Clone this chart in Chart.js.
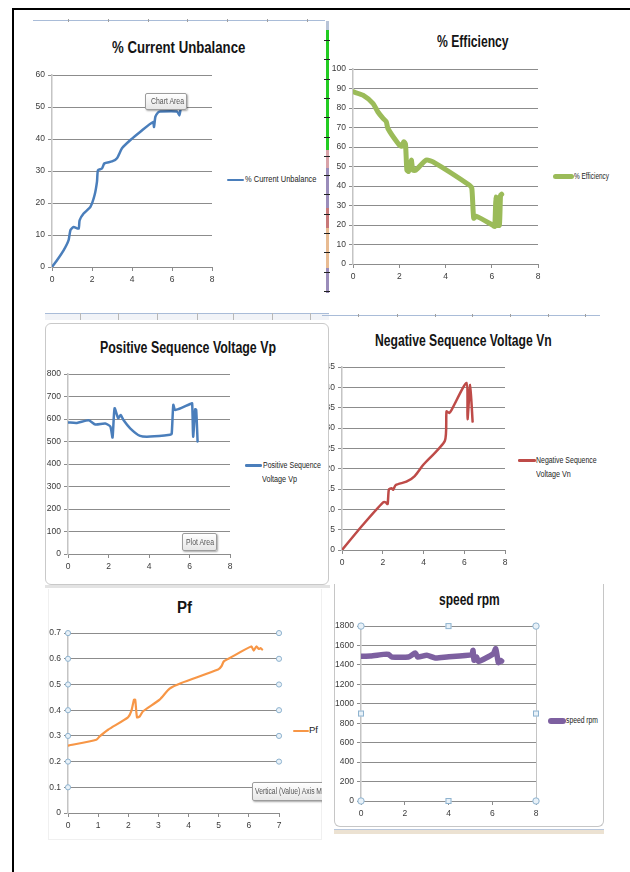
<!DOCTYPE html>
<html>
<head>
<meta charset="utf-8">
<script src="https://cdn.jsdelivr.net/npm/chart.js@4.4.1/dist/chart.umd.min.js"></script>
<style>
  html,body{margin:0;padding:0;}
  body{width:630px;height:872px;position:relative;background:#ffffff;overflow:hidden;font-family:"Liberation Sans",Arial,sans-serif;}
  .d{position:absolute;}
  canvas{position:absolute;}
  .tip{position:absolute;border:1px solid #9c9c9c;border-radius:2px;background:linear-gradient(#ffffff,#e6e6e6);box-shadow:1px 1px 2px rgba(0,0,0,0.35);box-sizing:border-box;overflow:hidden;}
</style>
</head>
<body>
<script>
// ---------------- DATA ----------------
const xTicks8 = [0, 2, 4, 6, 8];
const xTicks7 = [0, 1, 2, 3, 4, 5, 6, 7];
const unbalanceYTicks = [0, 10, 20, 30, 40, 50, 60];
const efficiencyYTicks = [0, 10, 20, 30, 40, 50, 60, 70, 80, 90, 100];
const vpYTicks = [0, 100, 200, 300, 400, 500, 600, 700, 800];
const vnYTicks = [0, 5, 10, 15, 20, 25, 30, 35, 40, 45];
const pfYTicks = [0, 0.1, 0.2, 0.3, 0.4, 0.5, 0.6, 0.7];
const speedYTicks = [0, 200, 400, 600, 800, 1000, 1200, 1400, 1600, 1800];

const unbalanceX = [0, 0.25, 0.58, 0.83, 0.92, 1.08, 1.33, 1.38, 1.58, 1.92, 2.13, 2.25, 2.3, 2.5, 2.62, 3.0, 3.25, 3.5, 3.92, 4.42, 5.05, 5.1, 5.17, 5.3, 5.4, 6.25, 6.37, 6.42];
const unbalanceY = [0, 2.1, 5.2, 8.4, 11.5, 12.5, 12, 14.6, 16.7, 18.8, 22.5, 26.7, 30.3, 30.8, 32.4, 33, 34, 37.1, 39.7, 42.3, 45.3, 43.8, 47, 48.3, 48.6, 48.6, 47.4, 49];

const efficiencyX = [0, 0.43, 0.86, 1.08, 1.3, 1.44, 1.51, 1.95, 2.09, 2.2, 2.27, 2.33, 2.4, 2.52, 2.59, 2.71, 3.17, 3.46, 5.04, 5.14, 5.22, 5.33, 6.05, 6.13, 6.18, 6.23, 6.33, 6.38, 6.43];
const efficiencyY = [88.4, 86.6, 82.4, 78, 74.7, 73, 69.5, 61.8, 60.4, 62.7, 61.5, 48.1, 47.5, 53.3, 48.1, 48.1, 53.3, 52.4, 40.4, 38.7, 23.5, 24.5, 19.9, 19.3, 34.4, 19.9, 19.9, 35.2, 35.8];

const vpX = [0, 0.44, 1.02, 1.35, 1.84, 2.09, 2.2, 2.3, 2.48, 2.6, 2.74, 3.07, 3.56, 4.06, 5.04, 5.12, 5.2, 5.28, 5.45, 6.03, 6.13, 6.18, 6.28, 6.33, 6.4];
const vpY = [585, 583, 595, 576, 580, 567, 518, 648, 604, 618, 596, 559, 525, 522, 530, 534, 663, 641, 644, 667, 670, 522, 644, 641, 500];

const vnX = [0, 1.03, 2.02, 2.15, 2.24, 2.3, 2.43, 2.51, 2.64, 3.16, 3.57, 3.98, 5.05, 5.13, 5.26, 5.38, 6.11, 6.16, 6.29, 6.41];
const vnY = [0, 6.2, 11.7, 11.7, 11.3, 14.9, 15.2, 14.8, 16, 16.8, 18.2, 20.9, 26.9, 34.1, 33.7, 34.5, 41.1, 32.2, 40.6, 31.6];

const pfX = [0, 0.94, 1.05, 1.33, 1.99, 2.1, 2.19, 2.23, 2.29, 2.38, 2.49, 3.04, 3.37, 3.76, 4.98, 5.09, 5.17, 5.37, 6.08, 6.16, 6.25, 6.33, 6.39, 6.44];
const pfY = [0.262, 0.285, 0.298, 0.324, 0.372, 0.396, 0.441, 0.441, 0.372, 0.376, 0.396, 0.441, 0.484, 0.506, 0.558, 0.571, 0.59, 0.603, 0.648, 0.632, 0.648, 0.638, 0.642, 0.636];

const speedX = [0, 0.43, 1.03, 1.26, 1.41, 2.17, 2.48, 2.59, 3.01, 3.39, 3.92, 5.06, 5.12, 5.17, 5.29, 5.37, 6.05, 6.16, 6.28, 6.36, 6.43];
const speedY = [1489, 1492, 1509, 1509, 1482, 1482, 1523, 1482, 1499, 1472, 1482, 1506, 1550, 1448, 1482, 1437, 1516, 1567, 1424, 1448, 1440];

// ---------------- HELPERS ----------------
const FONT = '"Liberation Sans Narrow","Liberation Sans",Arial,sans-serif';
const GRID = '#8c8c8c';
const TICKC = '#3a3a3a';
const WY = 34, PT = 8, PR = 8, HX = 22;

function box(css, z) {
  const d = document.createElement('div');
  d.className = 'd';
  d.style.cssText += css;
  if (z !== undefined) d.style.zIndex = z;
  document.body.appendChild(d);
  return d;
}

function label(text, x, cy, w, o) {
  o = o || {};
  const d = document.createElement('div');
  d.textContent = text;
  d.style.cssText = 'position:absolute;white-space:nowrap;line-height:1.15;transform-origin:0 0;left:0;top:0;' +
    'font-family:' + (o.family || '"Liberation Sans",Arial,sans-serif') + ';font-size:' + (o.size || 8.5) + 'px;' +
    'font-weight:' + (o.bold ? 'bold' : 'normal') + ';color:' + (o.color || '#222') + ';z-index:' + (o.z || 6);
  (o.parent || document.body).appendChild(d);
  const r = d.getBoundingClientRect();
  const left = o.center ? x - w / 2 : x;
  d.style.left = left + 'px';
  d.style.top = (cy - r.height / 2) + 'px';
  d.style.transform = 'scaleX(' + (w / r.width) + ')';
  return d;
}

function swatch(x1, x2, y, t, color) {
  box('left:' + x1 + 'px;top:' + (y - t / 2) + 'px;width:' + (x2 - x1) + 'px;height:' + t + 'px;background:' + color + ';border-radius:' + (t / 2) + 'px;', 6);
}

function pts(xs, ys) { return xs.map((x, i) => ({ x: x, y: ys[i] })); }

function makeChart(plot, xt, yt, xs, ys, color, lw, z, plugins, yfmt) {
  const c = document.createElement('canvas');
  const w = plot.r - plot.l + WY + PR, h = plot.b - plot.t + PT + HX;
  c.width = w; c.height = h;
  c.style.left = (plot.l - WY) + 'px';
  c.style.top = (plot.t - PT) + 'px';
  c.style.width = w + 'px'; c.style.height = h + 'px';
  c.style.zIndex = z;
  document.body.appendChild(c);
  const tf = { family: FONT, size: 8.5 };
  return new Chart(c.getContext('2d'), {
    type: 'scatter',
    data: { datasets: [{ data: pts(xs, ys), showLine: true, borderColor: color, backgroundColor: color,
      borderWidth: lw, pointRadius: 0, tension: 0.2, borderCapStyle: 'round', borderJoinStyle: 'round', fill: false }] },
    options: {
      responsive: false, animation: false, events: [], devicePixelRatio: 1,
      layout: { padding: { left: 0, top: PT, right: PR, bottom: 0 } },
      plugins: { legend: { display: false }, tooltip: { enabled: false }, title: { display: false } },
      scales: {
        x: {
          type: 'linear', min: xt[0], max: xt[xt.length - 1],
          afterBuildTicks: s => { s.ticks = xt.map(v => ({ value: v })); },
          afterFit: s => { s.height = HX; },
          grid: { display: true, drawOnChartArea: false, drawTicks: true, tickLength: 4, color: GRID },
          border: { display: true, color: GRID, width: 1 },
          ticks: { padding: 4, color: TICKC, font: tf, maxRotation: 0, autoSkip: false, callback: v => String(v) }
        },
        y: {
          type: 'linear', min: yt[0], max: yt[yt.length - 1],
          afterBuildTicks: s => { s.ticks = yt.map(v => ({ value: v })); },
          afterFit: s => { s.width = WY; },
          grid: { display: true, drawOnChartArea: true, drawTicks: true, tickLength: 4, color: GRID },
          border: { display: true, color: '#c4c4c4', width: 1.5 },
          ticks: { padding: 3, color: TICKC, font: tf, autoSkip: false, callback: yfmt || (v => String(v)) }
        }
      }
    },
    plugins: plugins || []
  });
}

function handleCircle(ctx, x, y, r) {
  ctx.beginPath(); ctx.arc(x, y, r, 0, Math.PI * 2);
  ctx.fillStyle = '#e8f1f8'; ctx.fill();
  ctx.lineWidth = 1; ctx.strokeStyle = '#8fb3cf'; ctx.stroke();
}
function handleSquare(ctx, x, y, s) {
  ctx.fillStyle = '#e8f1f8'; ctx.fillRect(x - s / 2, y - s / 2, s, s);
  ctx.lineWidth = 1; ctx.strokeStyle = '#8fb3cf'; ctx.strokeRect(x - s / 2 + 0.5, y - s / 2 + 0.5, s - 1, s - 1);
}

const pfHandles = {
  id: 'pfHandles',
  afterDraw(chart) {
    const ctx = chart.ctx, a = chart.chartArea, y = chart.scales.y;
    ctx.save();
    y.ticks.forEach(t => {
      if (t.value === 0) return;
      const py = y.getPixelForValue(t.value);
      handleCircle(ctx, a.left, py, 2.6);
      handleCircle(ctx, a.right, py, 2.6);
    });
    ctx.restore();
  }
};

const speedFrame = {
  id: 'speedFrame',
  beforeDatasetsDraw(chart) {
    const ctx = chart.ctx, a = chart.chartArea;
    ctx.save(); ctx.strokeStyle = '#c4c4c4'; ctx.lineWidth = 1;
    ctx.beginPath(); ctx.moveTo(Math.round(a.right) + 0.5, a.top); ctx.lineTo(Math.round(a.right) + 0.5, a.bottom); ctx.stroke();
    ctx.restore();
  },
  afterDraw(chart) {
    const ctx = chart.ctx, a = chart.chartArea;
    const mx = (a.left + a.right) / 2, my = (a.top + a.bottom) / 2;
    ctx.save();
    handleCircle(ctx, a.left, a.top, 3.2); handleCircle(ctx, a.right, a.top, 3.2);
    handleCircle(ctx, a.left, a.bottom, 3.2); handleCircle(ctx, a.right, a.bottom, 3.2);
    handleSquare(ctx, mx, a.top, 6); handleSquare(ctx, mx, a.bottom, 6);
    handleSquare(ctx, a.left, my, 6); handleSquare(ctx, a.right, my, 6);
    ctx.restore();
  }
};

// ---------------- PAGE DECORATION ----------------
// black frame
box('left:12px;top:8px;width:618px;height:2px;background:#000;', 8);
box('left:12px;top:8px;width:2px;height:864px;background:#000;', 8);
// spreadsheet line at top-left
box('left:33px;top:20px;width:292px;height:1px;background:#a9bcd8;', 1);
[68, 108, 148, 187, 227, 267, 307].forEach(x => box('left:' + x + 'px;top:19px;width:1px;height:3px;background:#a0a0a0;', 1));
// coloured strip
[[21, 30, '#b8c4d8'], [30, 150, '#22cc22'], [150, 168, '#d8a2a8'], [168, 208, '#9a8cba'], [208, 228, '#c87878'], [228, 268, '#e8bb92'], [268, 293, '#9a8cba']]
  .forEach(s => box('left:326px;top:' + s[0] + 'px;width:3px;height:' + (s[1] - s[0]) + 'px;background:' + s[2] + ';', 1));
for (let y = 40; y < 292; y += 19.3) box('left:324px;top:' + Math.round(y) + 'px;width:6px;height:1px;background:#222;', 1);
// spreadsheet rows around middle charts
box('left:45px;top:313px;width:284px;height:6px;background:#f1f3f7;border-top:1px solid #a9bcd8;', 1);
[80, 118, 157, 197, 233, 272, 310].forEach(x => box('left:' + x + 'px;top:313px;width:1px;height:7px;background:#b8b8b8;', 1));
box('left:322px;top:315px;width:278px;height:1px;background:#a9bcd8;', 1);
[358, 397, 435, 472, 510, 548, 585].forEach(x => box('left:' + x + 'px;top:314px;width:1px;height:3px;background:#a0a0a0;', 1));
// chart 3 box (covers chart 4 axis labels)
box('left:45px;top:323px;width:284px;height:262px;box-sizing:border-box;border:1px solid #c9c9c9;border-radius:6px;background:#fff;', 2);
box('left:45px;top:585px;width:285px;height:3px;background:#e3e3e3;', 2);
// chart 5 faint box
box('left:48px;top:589px;width:274px;height:251px;box-sizing:border-box;border:1px solid #f0f0f0;border-top:none;', 0);
// chart 6 box
box('left:334px;top:584px;width:270px;height:243px;box-sizing:border-box;border:1px solid #c6c6c6;border-top:none;border-radius:0 0 6px 6px;', 0);
box('left:334px;top:829px;width:270px;height:4px;background:#ece2d2;border-top:1px solid #b9c7dc;', 0);

// ---------------- CHARTS ----------------
makeChart({ l: 52, t: 75, r: 212, b: 267 }, xTicks8, unbalanceYTicks, unbalanceX, unbalanceY, '#4a7ebb', 2.5, 3);
makeChart({ l: 353, t: 69, r: 538, b: 264 }, xTicks8, efficiencyYTicks, efficiencyX, efficiencyY, '#9bbb59', 5, 3);
makeChart({ l: 342, t: 367, r: 505, b: 550 }, xTicks8, vnYTicks, vnX, vnY, '#be4b48', 2.5, 1);
makeChart({ l: 68, t: 374, r: 230, b: 554 }, xTicks8, vpYTicks, vpX, vpY, '#4a7ebb', 2.5, 3);
makeChart({ l: 68, t: 633, r: 279, b: 813 }, xTicks7, pfYTicks, pfX, pfY, '#f79646', 2.2, 3, [pfHandles], v => (v === 0 ? '0' : v.toFixed(1)));
makeChart({ l: 361, t: 626, r: 536, b: 801 }, xTicks8, speedYTicks, speedX, speedY, '#7d60a0', 5.5, 3, [speedFrame]);

// ---------------- TITLES ----------------
const TT = { bold: true, size: 16, color: '#141414', center: true, z: 6 };
label('% Current Unbalance', 178.3, 48, 133.3, TT);
label('% Efficiency', 472.5, 41.7, 71.6, TT);
label('Positive Sequence Voltage Vp', 188, 348.3, 176, TT);
label('Negative Sequence Voltage Vn', 463.3, 341, 176.7, TT);
label('Pf', 184, 608.3, 15, TT);
label('speed rpm', 469.7, 600, 60.7, TT);

// ---------------- LEGENDS ----------------
swatch(227, 243.5, 180, 2.5, '#4a7ebb');
label('% Current Unbalance', 244.5, 180, 71.5);
swatch(553, 573.5, 176.7, 5, '#9bbb59');
label('% Efficiency', 573.5, 176.7, 35);
swatch(245, 262, 465.7, 2.5, '#4a7ebb');
label('Positive Sequence', 263, 465.7, 58);
label('Voltage Vp', 262, 480, 35);
swatch(518, 535.5, 460.7, 2.5, '#be4b48');
label('Negative Sequence', 536, 460.7, 60.7);
label('Voltage Vn', 536, 475, 34.7);
swatch(293, 309, 731, 2.5, '#f79646');
label('Pf', 309, 731, 9);
swatch(548, 565.5, 721, 6, '#7d60a0');
label('speed rpm', 565.7, 721, 32);

// ---------------- EXCEL HOVER TIPS ----------------
(function () {
  const t1 = box('left:145px;top:93px;width:42px;height:17px;', 7); t1.className = 'tip';
  label('Chart Area', 21, 8, 33, { parent: t1, center: true, size: 8.5, color: '#555' });
  const t2 = box('left:182px;top:533px;width:35px;height:18px;', 7); t2.className = 'tip';
  label('Plot Area', 17, 8.5, 28, { parent: t2, center: true, size: 8.5, color: '#555' });
  const clip = box('left:0;top:0;width:322px;height:872px;overflow:hidden;pointer-events:none;', 7);
  const t3 = document.createElement('div'); t3.className = 'tip';
  t3.style.cssText += 'left:252px;top:782px;width:80px;height:19px;';
  clip.appendChild(t3);
  label('Vertical (Value) Axis M', 2, 9, 67, { parent: t3, size: 8.5, color: '#555' });
})();
</script>
</body>
</html>
